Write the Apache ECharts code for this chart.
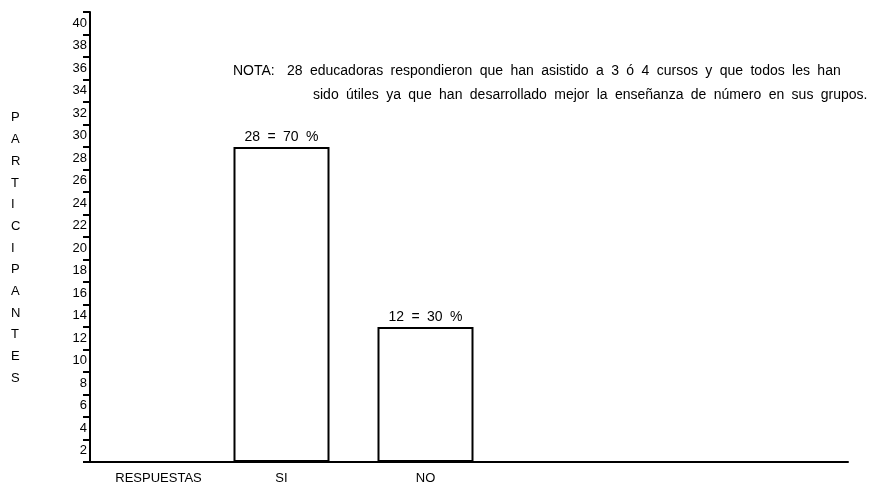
<!DOCTYPE html>
<html>
<head>
<meta charset="utf-8">
<script src="https://cdn.jsdelivr.net/npm/echarts@6/dist/echarts.min.js"></script>
<style>html,body{margin:0;padding:0;background:#fff}#c{width:890px;height:487px}</style>
</head>
<body>
<div id="c"></div>
<script>
// Data
var categories = ['RESPUESTAS', 'SI', 'NO'];
var values = [null, 28, 12];
var percents = [null, 70, 30];
var yMin = 0, yMax = 40, yStep = 2;
var yTitle = 'PARTICIPANTES';
var noteLabel = 'NOTA:';
var noteLine1 = '28 educadoras respondieron que han asistido a 3 ó 4 cursos y que todos les han';
var noteLine2 = 'sido útiles ya que han desarrollado mejor la enseñanza de número en sus grupos.';

var FONT = "'Liberation Sans', Arial, 'DejaVu Sans', sans-serif";
// the original typesetting uses slightly wider word spacing
function wide(s) { return s.replace(/ /g, ' \u2005'); }
var txt = function (extra) {
  return Object.assign({fontFamily: FONT, fontSize: 14, fontWeight: 'normal', color: '#000'}, extra || {});
};

var chart = echarts.init(document.getElementById('c'), null, {renderer: 'canvas'});
var option = {
  backgroundColor: '#fff',
  animation: false,
  textStyle: {fontFamily: FONT, color: '#000'},
  title: [
    {text: yTitle.split('').join('\n'), left: 11, top: 107, padding: 0,
     textStyle: txt({fontSize: 13, lineHeight: 21.7})},
    {text: noteLabel, left: 233, top: 63, padding: 0, textStyle: txt({lineHeight: 16})},
    {text: wide(noteLine1), left: 287, top: 63, padding: 0, textStyle: txt({lineHeight: 16})},
    {text: wide(noteLine2), left: 313, top: 87, padding: 0, textStyle: txt({lineHeight: 16})}
  ],
  grid: [
    {left: 90, right: 42, top: 12, bottom: 25, containLabel: false},
    {left: 65.5, width: 432, top: 12, bottom: 25, containLabel: false}
  ],
  xAxis: [
    {gridIndex: 0, type: 'value', min: 0, max: 1,
     axisLine: {show: true, onZero: false, lineStyle: {color: '#000', width: 2}},
     axisTick: {show: false}, axisLabel: {show: false}, splitLine: {show: false}},
    {gridIndex: 1, type: 'category', data: categories,
     axisLine: {show: false}, axisTick: {show: false}, splitLine: {show: false},
     axisLabel: {margin: 10, fontSize: 13, color: '#000', fontFamily: FONT,
       formatter: function (v, i) { return i === 0 ? '{r|' + v + '}' : v; },
       rich: {r: {padding: [0, 0, 0, 42], fontSize: 13, fontFamily: FONT, color: '#000'}}}}
  ],
  yAxis: [
    {gridIndex: 0, type: 'value', min: yMin, max: yMax, interval: yStep,
     axisLine: {show: true, lineStyle: {color: '#000', width: 2}},
     axisTick: {show: true, inside: false, length: 7, lineStyle: {color: '#000', width: 2}},
     splitLine: {show: false},
     axisLabel: {margin: 3, fontSize: 13, color: '#000', fontFamily: FONT,
       verticalAlign: 'top', lineHeight: 22.3, showMaxLabel: true,
       formatter: function (v) { return v === 0 ? '' : String(v); }}},
    {gridIndex: 1, type: 'value', min: yMin, max: yMax, interval: yStep, show: false}
  ],
  series: [{
    type: 'bar', xAxisIndex: 1, yAxisIndex: 1,
    data: values,
    barCategoryGap: '33.33%',
    itemStyle: {color: '#fff', borderColor: '#000', borderWidth: 2},
    label: {show: true, position: 'top', distance: 3, fontSize: 14, color: '#000', fontFamily: FONT,
      formatter: function (p) { return wide(p.value + ' = ' + percents[p.dataIndex] + ' %'); }}
  }]
};
chart.setOption(option);
</script>
</body>
</html>
